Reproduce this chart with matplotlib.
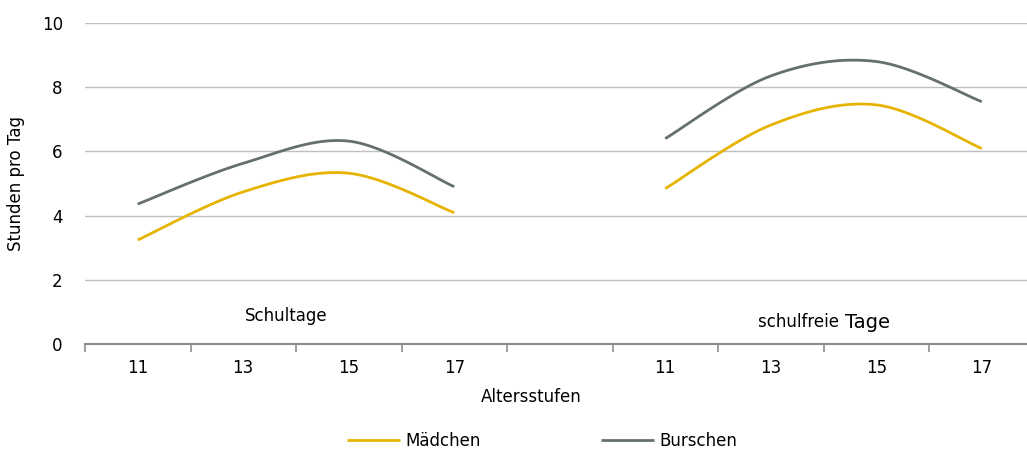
import numpy as np
import matplotlib.pyplot as plt

plt.rcParams['font.family'] = ['DejaVu Sans']

# Daten
alter = ['11', '13', '15', '17', '', '11', '13', '15', '17']
maedchen_schul = [3.24, 4.74, 5.32, 4.09]
burschen_schul = [4.36, 5.63, 6.32, 4.90]
maedchen_frei = [4.84, 6.82, 7.45, 6.09]
burschen_frei = [6.40, 8.35, 8.80, 7.55]

gelb = '#E6B400'
grau = '#66706B'


def glatt(x, y, n=40):
    """Geglaettete Linie wie in Excel (Catmull-Rom / Bezier)."""
    x = np.asarray(x, float)
    y = np.asarray(y, float)
    px = np.concatenate([[x[0]], x, [x[-1]]])
    py = np.concatenate([[y[0]], y, [y[-1]]])
    xs, ys = [], []
    t = np.linspace(0, 1, n)
    for i in range(1, len(px) - 2):
        p0 = np.array([px[i], py[i]])
        p3 = np.array([px[i + 1], py[i + 1]])
        c1 = p0 + (np.array([px[i + 1], py[i + 1]]) - np.array([px[i - 1], py[i - 1]])) / 6
        c2 = p3 - (np.array([px[i + 2], py[i + 2]]) - np.array([px[i], py[i]])) / 6
        b = ((1 - t) ** 3)[:, None] * p0 + (3 * (1 - t) ** 2 * t)[:, None] * c1 \
            + (3 * (1 - t) * t ** 2)[:, None] * c2 + (t ** 3)[:, None] * p3
        xs.extend(b[:, 0])
        ys.extend(b[:, 1])
    return xs, ys


fig = plt.figure(figsize=(10.27, 4.53), dpi=100)
ax = fig.add_axes([85 / 1027, 1 - 344 / 453, 949.5 / 1027, 321 / 453])

pos_schul = [0, 1, 2, 3]
pos_frei = [5, 6, 7, 8]

ax.plot(*glatt(pos_schul, maedchen_schul), color=gelb, lw=2, solid_capstyle='butt', label='Mädchen')
ax.plot(*glatt(pos_schul, burschen_schul), color=grau, lw=2, solid_capstyle='butt', label='Burschen')
ax.plot(*glatt(pos_frei, maedchen_frei), color=gelb, lw=2, solid_capstyle='butt')
ax.plot(*glatt(pos_frei, burschen_frei), color=grau, lw=2, solid_capstyle='butt')

ax.set_xlim(-0.5, 8.5)
ax.set_ylim(0, 10)
ax.set_yticks(range(0, 11, 2))
ax.yaxis.grid(True, color='#BFBFBF', lw=1)
ax.set_axisbelow(True)
ax.tick_params(axis='y', length=0, pad=16, labelsize=12)

ax.set_xticks(range(9))
ax.set_xticklabels(alter)
ax.set_xticks(np.arange(-0.5, 9, 1), minor=True)
ax.tick_params(axis='x', which='major', length=0, pad=11, labelsize=12)
ax.tick_params(axis='x', which='minor', length=6, width=1.2, color='#8C8C8C', direction='out')

for s in ['top', 'right', 'left']:
    ax.spines[s].set_visible(False)
ax.spines['bottom'].set_color('#8C8C8C')
ax.spines['bottom'].set_linewidth(1.5)

ax.set_ylabel('Stunden pro Tag', fontsize=12, labelpad=12)
fig.text(531 / 1027, 1 - 397 / 453, 'Altersstufen', ha='center', va='center', fontsize=12)

ax.text(1.41, 0.87, 'Schultage', ha='center', va='center', fontsize=12)
ax.text(6.70, 0.67, 'schulfreie ', ha='right', va='center', fontsize=12)
ax.text(6.70, 0.67, 'Tage', ha='left', va='center', fontsize=14)

fig.legend(loc='center', bbox_to_anchor=(542 / 1027, 1 - 441 / 453), ncol=2, frameon=False,
           fontsize=12, handlelength=3.2, handletextpad=0.3, columnspacing=7.2)

fig.savefig('out.png', dpi=100)
